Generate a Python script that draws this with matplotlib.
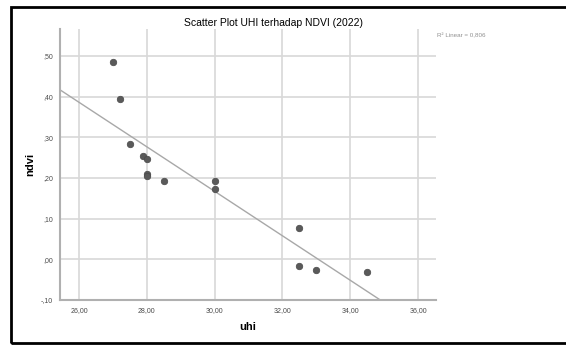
import numpy as np
import matplotlib
matplotlib.use("Agg")
import matplotlib.pyplot as plt
from matplotlib.patches import Rectangle

plt.rcParams['font.family'] = ['Liberation Sans', 'DejaVu Sans']

uhi = [27.0, 27.2, 27.5, 27.9, 28.0, 28.0, 28.0, 28.5, 30.0, 30.0, 32.5, 32.5, 33.0, 34.5]
ndvi = [0.486, 0.393, 0.283, 0.253, 0.246, 0.210, 0.204, 0.192, 0.192, 0.173, 0.077, -0.017, -0.026, -0.030]
x_ticks = [26, 28, 30, 32, 34, 36]
y_ticks = [-0.10, 0.0, 0.10, 0.20, 0.30, 0.40, 0.50]
r2_text = "R² Linear = 0,806"


def fmt_y(v):
    s = "%.2f" % v
    s = s.replace("0.", ".", 1).replace(".", ",")
    return s


fig = plt.figure(figsize=(5.66, 3.45), dpi=100)
# frame around the whole chart (open on the right side)
fig.patches.append(Rectangle((11 / 566, 2.5 / 345), 600 / 566, 335.5 / 345, transform=fig.transFigure,
                             fill=False, edgecolor='black', linewidth=2, clip_on=False))

ax = fig.add_axes([60 / 566, 45 / 345, 376 / 566, 271 / 345])

# fit line
slope, intercept = np.polyfit(uhi, ndvi, 1)
xs = np.array([25.0, 37.0])
ax.plot(xs, slope * xs + intercept, color='#a8a8a8', linewidth=1, zorder=2)

ax.scatter(uhi, ndvi, s=22, color='#5a5a5a', edgecolors='#4a4a4a', linewidths=0.5, zorder=3)

ax.set_xlim(25.44, 36.53)
ax.set_ylim(-0.10, 0.566)
ax.set_xticks(x_ticks)
ax.set_xticklabels(["%d,00" % t for t in x_ticks])
ax.set_yticks(y_ticks)
ax.set_yticklabels([fmt_y(t) for t in y_ticks])
ax.tick_params(length=0, labelsize=5, labelcolor='#4a4a4a', pad=5)
ax.grid(True, color='#d8d8d8', linewidth=1.2)
ax.set_axisbelow(True)
for s in ['top', 'right']:
    ax.spines[s].set_visible(False)
for s in ['left', 'bottom']:
    ax.spines[s].set_color('#b0b0b0')
    ax.spines[s].set_linewidth(1.5)

ax.set_xlabel("uhi", fontsize=8, fontweight='bold', labelpad=6)
ax.set_ylabel("ndvi", fontsize=8, fontweight='bold', labelpad=4)

fig.text(273 / 566, 1 - 23 / 345, "Scatter Plot UHI terhadap NDVI (2022)", fontsize=7.5,
         ha='center', va='center')
fig.text(437 / 566, 1 - 36 / 345, r2_text, fontsize=4.5, color='#909090', ha='left', va='center')

fig.savefig("out.png", dpi=100)
